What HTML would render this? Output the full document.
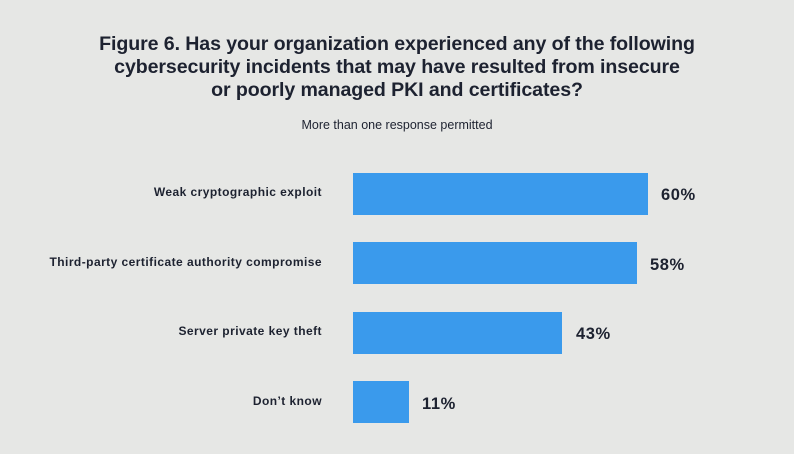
<!DOCTYPE html>
<html><head><style>
body{margin:0;width:794px;height:454px;background:#e6e7e5;font-family:"Liberation Sans",sans-serif;color:#1d2230;position:relative;overflow:hidden}
.t{position:absolute;left:0;width:794px;text-align:center;font-size:19.6px;font-weight:bold;line-height:23px;top:33px;letter-spacing:-0.1px}
.s{position:absolute;left:0;width:794px;text-align:center;font-size:12.5px;top:118px}
.l{position:absolute;right:472px;font-size:12px;font-weight:bold;text-align:right;white-space:nowrap;letter-spacing:0.45px}
.b{position:absolute;left:353px;height:42px;background:#3a9aec}
.v{position:absolute;font-size:16.5px;font-weight:bold;letter-spacing:0.6px}
</style></head><body>
<div class="t">Figure 6. Has your organization experienced any of the following<br>cybersecurity incidents that may have resulted from insecure<br>or poorly managed PKI and certificates?</div>
<div class="s">More than one response permitted</div>
<div class="l" style="top:185px">Weak cryptographic exploit</div>
<div class="b" style="top:173px;width:295px"></div>
<div class="v" style="left:661px;top:186px">60%</div>
<div class="l" style="top:255px">Third-party certificate authority compromise</div>
<div class="b" style="top:242px;width:284px"></div>
<div class="v" style="left:650px;top:256px">58%</div>
<div class="l" style="top:324px">Server private key theft</div>
<div class="b" style="top:312px;width:209px"></div>
<div class="v" style="left:576px;top:325px">43%</div>
<div class="l" style="top:394px">Don’t know</div>
<div class="b" style="top:381px;width:56px"></div>
<div class="v" style="left:422px;top:395px">11%</div>
</body></html>
